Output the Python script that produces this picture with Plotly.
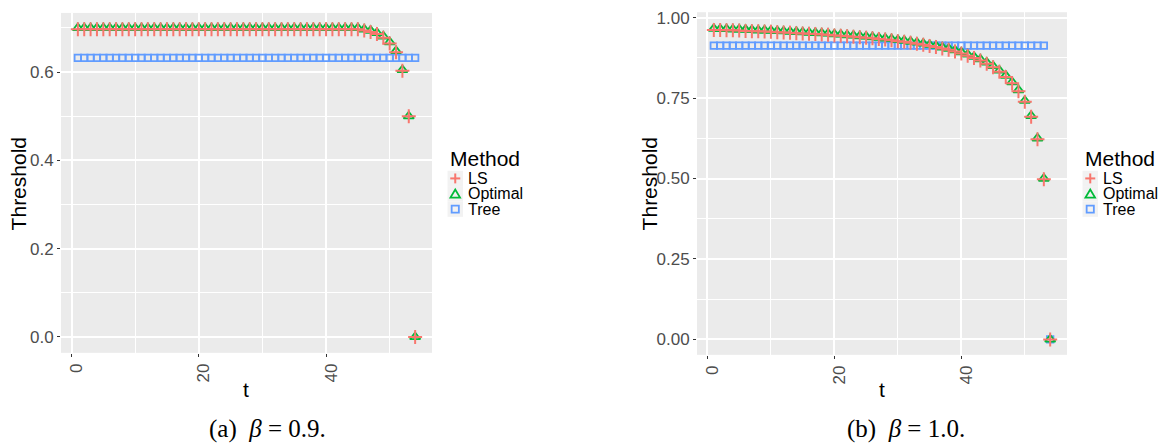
import plotly.graph_objects as go

# ---------------- data ----------------
t = list(range(1, 55))

# panel (a): beta = 0.9
opt_a = [0.700] * 45 + [0.697, 0.694, 0.689, 0.681, 0.668, 0.648, 0.605, 0.500, 0.000]
ls_a = [0.697] * 45 + [0.694, 0.691, 0.686, 0.678, 0.665, 0.645, 0.603, 0.500, 0.000]
tree_a = [0.632] * 54

# panel (b): beta = 1.0
opt_b = [0.966, 0.965, 0.965, 0.964, 0.964, 0.963, 0.962, 0.961, 0.961, 0.960,
         0.959, 0.958, 0.957, 0.956, 0.955, 0.954, 0.953, 0.952, 0.951, 0.949,
         0.948, 0.946, 0.945, 0.943, 0.942, 0.940, 0.938, 0.936, 0.934, 0.931,
         0.929, 0.926, 0.923, 0.920, 0.916, 0.913, 0.908, 0.904, 0.899, 0.893,
         0.886, 0.879, 0.871, 0.861, 0.850, 0.836, 0.820, 0.800, 0.775, 0.742,
         0.695, 0.625, 0.500, 0.000]
ls_b = [0.962, 0.962, 0.961, 0.961, 0.960, 0.959, 0.958, 0.958, 0.957, 0.956,
        0.955, 0.954, 0.953, 0.952, 0.951, 0.950, 0.949, 0.948, 0.947, 0.945,
        0.944, 0.942, 0.941, 0.939, 0.938, 0.936, 0.934, 0.932, 0.930, 0.927,
        0.925, 0.922, 0.919, 0.916, 0.912, 0.909, 0.904, 0.900, 0.895, 0.889,
        0.882, 0.875, 0.867, 0.857, 0.846, 0.832, 0.816, 0.796, 0.771, 0.739,
        0.692, 0.622, 0.498, 0.000]
tree_b = [0.913] * 53 + [0.000]

methods = ["LS", "Optimal", "Tree"]
captions = ["(a)\u00a0 <i>β</i> = 0.9.", "(b)\u00a0 <i>β</i> = 1.0."]
x_ticks = [0, 20, 40]
y_ticks_a = [0.0, 0.2, 0.4, 0.6]
y_ticks_b = [0.00, 0.25, 0.50, 0.75, 1.00]

# ---------------- style ----------------
W, H = 1160, 447
COL = {"LS": "#F8766D", "Optimal": "#00BA38", "Tree": "#619CFF"}
SYM = {"LS": "cross-thin-open", "Optimal": "triangle-up-open", "Tree": "square-open"}
SIZE = {"LS": 10, "Optimal": 9, "Tree": 6.5}
LW = {"LS": 2.0, "Optimal": 1.8, "Tree": 1.8}
FONT = "Liberation Sans, Arial, sans-serif"
PANEL_BG = "#EBEBEB"


def px(xp):
    return xp / W


def py(yp):
    return 1 - yp / H


fig = go.Figure()

panels = [
    ("x", "y", {"LS": ls_a, "Optimal": opt_a, "Tree": tree_a}),
    ("x2", "y2", {"LS": ls_b, "Optimal": opt_b, "Tree": tree_b}),
]
for xa, ya, series in panels:
    for m in ["Tree", "Optimal", "LS"]:
        fig.add_trace(go.Scatter(
            x=t, y=series[m], mode="markers", name=m, showlegend=False,
            xaxis=xa, yaxis=ya,
            marker=dict(symbol=SYM[m], size=SIZE[m], color=COL[m],
                        line=dict(color=COL[m], width=LW[m])),
        ))


def xaxis_cfg(dom):
    return dict(
        domain=dom, range=[-1.65, 56.65], tickvals=x_ticks, tickangle=-90,
        ticklabelshift=5,
        ticks="outside", ticklen=3, tickcolor="#333333", tickwidth=1,
        tickfont=dict(family=FONT, size=17, color="#4D4D4D"),
        showgrid=True, gridcolor="white", gridwidth=1.6, zeroline=False,
        showline=False,
        minor=dict(tickvals=[10, 30, 50], showgrid=True, gridcolor="white",
                   gridwidth=0.8, ticks=""),
    )


def yaxis_cfg(dom, rng, ticks, minors, fmt):
    return dict(
        domain=dom, range=rng, tickvals=ticks, tickformat=fmt,
        ticklabeloverflow="allow",
        ticks="outside", ticklen=3, tickcolor="#333333", tickwidth=1,
        tickfont=dict(family=FONT, size=17, color="#4D4D4D"),
        showgrid=True, gridcolor="white", gridwidth=1.6, zeroline=False,
        showline=False,
        minor=dict(tickvals=minors, showgrid=True, gridcolor="white",
                   gridwidth=0.8, ticks=""),
    )


fig.update_layout(
    width=W, height=H,
    margin=dict(l=0, r=0, t=0, b=0),
    paper_bgcolor="white", plot_bgcolor=PANEL_BG,
    showlegend=False,
    xaxis=dict(xaxis_cfg([px(61), px(432)]), anchor="y"),
    yaxis=dict(yaxis_cfg([py(352), py(9)], [-0.036, 0.734], y_ticks_a,
                         [0.1, 0.3, 0.5, 0.7], ".1f"), anchor="x"),
    xaxis2=dict(xaxis_cfg([px(697), px(1067)]), anchor="y2"),
    yaxis2=dict(yaxis_cfg([py(354), py(8.3)], [-0.048, 1.017], y_ticks_b,
                          [0.125, 0.375, 0.625, 0.875], ".2f"), anchor="x2"),
)

shapes = []
annotations = []

# axis titles
for tx, ty_x, yx, yy in [(246, 389, 18.5, 181.5), (882, 389, 649.5, 181.5)]:
    annotations.append(dict(
        x=px(tx), y=py(ty_x), xref="paper", yref="paper", xanchor="center",
        yanchor="middle", text="t", showarrow=False,
        font=dict(family=FONT, size=21, color="black")))
    annotations.append(dict(
        x=px(yx), y=py(yy), xref="paper", yref="paper", xanchor="center",
        yanchor="middle", text="Threshold", textangle=-90, showarrow=False,
        font=dict(family=FONT, size=21, color="black")))

# ---------------- manual legends (ggplot style) ----------------
legend_x = [447.5, 1082.5]
row_y = [176, 191.5, 207]
KEY = 15.5
for lx in legend_x:
    annotations.append(dict(
        x=px(lx), y=py(156), xref="paper", yref="paper", xanchor="left",
        yanchor="middle", text="Method", showarrow=False,
        font=dict(family=FONT, size=21, color="black")))
    for m, cy in zip(methods, row_y):
        cx = lx + KEY / 2
        shapes.append(dict(type="rect", xref="paper", yref="paper",
                           x0=px(lx), x1=px(lx + KEY), y0=py(cy + KEY / 2),
                           y1=py(cy - KEY / 2), fillcolor="#F2F2F2",
                           line=dict(width=0), layer="below"))
        c = COL[m]
        if m == "LS":
            shapes.append(dict(type="line", xref="paper", yref="paper",
                               x0=px(cx - 5), x1=px(cx + 5), y0=py(cy), y1=py(cy),
                               line=dict(color=c, width=2)))
            shapes.append(dict(type="line", xref="paper", yref="paper",
                               x0=px(cx), x1=px(cx), y0=py(cy - 5), y1=py(cy + 5),
                               line=dict(color=c, width=2)))
        elif m == "Optimal":
            path = "M {:.5f},{:.5f} L {:.5f},{:.5f} L {:.5f},{:.5f} Z".format(
                px(cx - 4.8), py(cy + 3.8), px(cx + 4.8), py(cy + 3.8),
                px(cx), py(cy - 4.4))
            shapes.append(dict(type="path", xref="paper", yref="paper", path=path,
                               line=dict(color=c, width=1.8)))
        else:
            shapes.append(dict(type="rect", xref="paper", yref="paper",
                               x0=px(cx - 3.6), x1=px(cx + 3.6),
                               y0=py(cy + 3.6), y1=py(cy - 3.6),
                               line=dict(color=c, width=1.8)))
        annotations.append(dict(
            x=px(lx + KEY + 2.5), y=py(cy), xref="paper", yref="paper",
            xanchor="left", yanchor="middle", text=m, showarrow=False,
            font=dict(family=FONT, size=16, color="black")))

# captions
for cap, cxp in zip(captions, [267, 906]):
    annotations.append(dict(
        x=px(cxp), y=py(429), xref="paper", yref="paper", xanchor="center",
        yanchor="middle", text=cap, showarrow=False,
        font=dict(family="Liberation Serif, DejaVu Serif, serif", size=25,
                  color="black")))

fig.update_layout(shapes=shapes, annotations=annotations)

fig.write_html(
    "out.html",
    config={"displayModeBar": False},
    post_script="document.body.style.margin='0';document.body.style.overflow='hidden';",
)
